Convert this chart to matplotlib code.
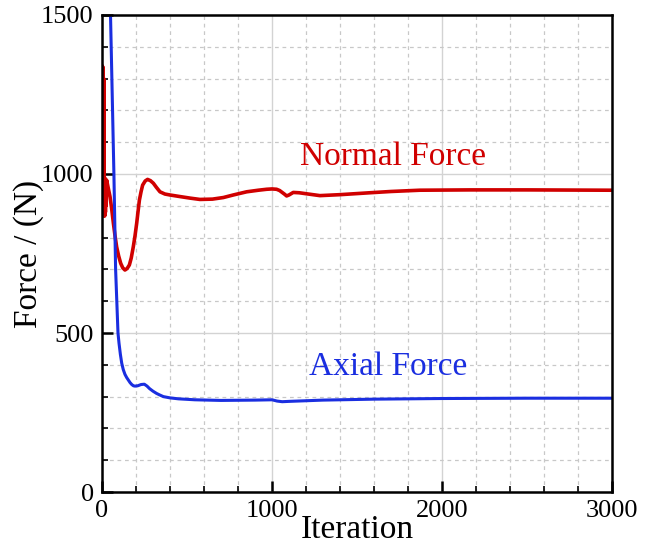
import numpy as np
import matplotlib.pyplot as plt
from matplotlib.ticker import MultipleLocator

# convergence history of the two force components
normal_iter = [0, 2, 4, 6, 8, 10, 12, 14, 16, 18, 20, 22, 24, 27, 35, 47, 57, 67, 76, 86,
               98, 110, 122, 135, 148, 161, 172, 184, 194, 204, 212, 220, 230, 239, 254,
               268, 285, 302, 320, 341, 370, 400, 459, 520, 576, 650, 714, 772, 851,
               920, 969, 1000, 1027, 1045, 1060, 1075, 1086, 1100, 1125, 1160, 1200,
               1282, 1400, 1576, 1700, 1870, 2165, 2500, 2988, 3000]
normal_force = [880, 1340, 870, 1335, 868, 1300, 875, 990, 868, 985, 880, 975, 900, 981,
                960, 929, 890, 845, 808, 771, 742, 719, 705, 698, 703, 714, 736, 771,
                805, 845, 882, 918, 945, 965, 978, 983, 979, 971, 958, 944, 937, 934,
                929, 924, 920, 921, 926, 934, 944, 949, 952, 953, 952, 948, 942, 936,
                931, 934, 942, 941, 938, 932, 935, 941, 945, 949, 950, 950, 949, 949]

axial_iter = [35, 50, 60, 70, 80, 94, 100, 108, 116, 125, 135, 145, 155, 165, 175, 185,
              194, 210, 230, 249, 265, 280, 300, 321, 340, 361, 400, 450, 547, 700, 900,
              1000, 1030, 1060, 1100, 1300, 1600, 2000, 2500, 3000]
axial_force = [2200, 1500, 1250, 1000, 700, 500, 468, 433, 405, 385, 370, 360, 352, 344,
               338, 334, 333, 334, 338, 339, 333, 325, 317, 310, 305, 300, 296, 293, 290,
               288, 289, 290, 286, 284, 285, 289, 292, 294, 295, 295]

plt.rcParams['font.family'] = ['Liberation Serif', 'DejaVu Serif']

fig = plt.figure(figsize=(6.51, 5.49), dpi=100)
ax = fig.add_axes([0.1567, 0.1038, 0.7833, 0.8689])

ax.plot(normal_iter, normal_force, color='#d00000', lw=2.6,
        solid_joinstyle='round', solid_capstyle='round')
ax.plot(axial_iter, axial_force, color='#1a2ee0', lw=2.2,
        solid_joinstyle='round', solid_capstyle='round')

ax.set_xlim(0, 3000)
ax.set_ylim(0, 1500)
ax.xaxis.set_major_locator(MultipleLocator(1000))
ax.xaxis.set_minor_locator(MultipleLocator(200))
ax.yaxis.set_major_locator(MultipleLocator(500))
ax.yaxis.set_minor_locator(MultipleLocator(100))

ax.grid(which='major', color='#d3d3d3', lw=1.0, ls='-')
ax.grid(which='minor', color='#c8c8c8', lw=0.9, ls=(0, (3, 3)))
ax.set_axisbelow(True)

ax.tick_params(which='major', direction='in', length=8, width=1.8, labelsize=19, pad=6)
ax.tick_params(which='minor', direction='in', length=4, width=1.2)
ax.tick_params(top=False, right=False)
for s in ax.spines.values():
    s.set_linewidth(1.8)

ax.set_xlabel('Iteration', fontsize=24, labelpad=-6)
ax.set_ylabel('Force / (N)', fontsize=24, labelpad=-2)

ax.text(1712, 1053, 'Normal Force', color='#d00000', fontsize=24, ha='center', va='center')
ax.text(1682, 393, 'Axial Force', color='#1a2ee0', fontsize=24, ha='center', va='center')

fig.savefig('out.png', dpi=100)
